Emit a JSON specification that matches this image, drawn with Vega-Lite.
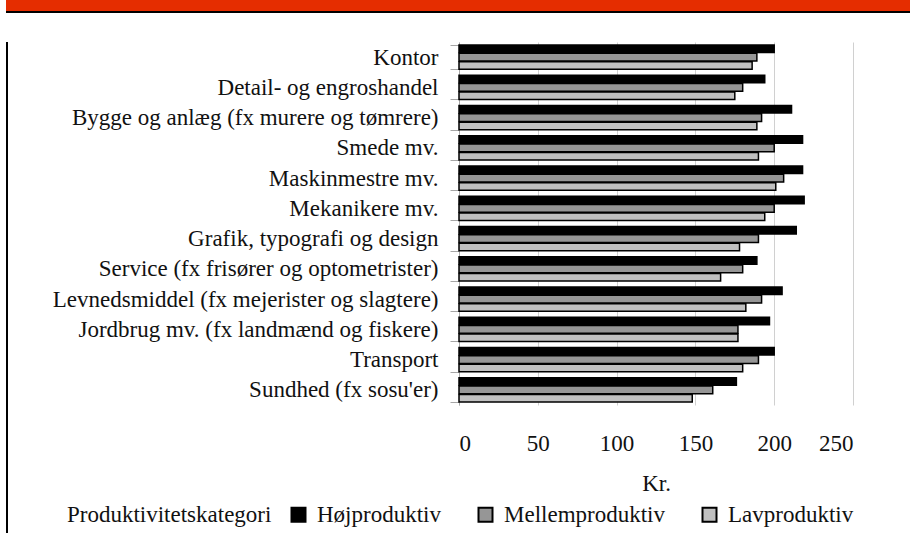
{
  "$schema": "https://vega.github.io/schema/vega-lite/v6.json",
  "padding": {"left": 6, "top": 0, "right": 0, "bottom": 0},
  "background": "white",
  "bounds": "flush",
  "spacing": 0,
  "config": {
    "view": {"stroke": null},
    "font": "Liberation Serif, serif",
    "concat": {"spacing": 0}
  },
  "vconcat": [
    {"width": 904, "height": 11, "data": {"values": []}, "mark": "rect", "encoding": {}, "view": {"fill": "#e52d00", "stroke": null}},
    {"width": 904, "height": 2, "data": {"values": []}, "mark": "rect", "encoding": {}, "view": {"fill": "#000000", "stroke": null}},
    {"width": 904, "height": 29, "data": {"values": []}, "mark": "rect", "encoding": {}},
    {
      "bounds": "flush",
      "spacing": 0,
      "hconcat": [
        {"width": 2, "height": 491, "data": {"values": []}, "mark": "rect", "encoding": {}, "view": {"fill": "#000000", "stroke": null}},
        {"width": 451, "height": 363, "data": {"values": []}, "mark": "rect", "encoding": {}},
        {
          "width": 394, "height": 363,
          "data": {"values": [
            {"kategori": "Kontor", "gruppe": "Højproduktiv", "kr": 200},
            {"kategori": "Kontor", "gruppe": "Mellemproduktiv", "kr": 189},
            {"kategori": "Kontor", "gruppe": "Lavproduktiv", "kr": 186},
            {"kategori": "Detail- og engroshandel", "gruppe": "Højproduktiv", "kr": 194},
            {"kategori": "Detail- og engroshandel", "gruppe": "Mellemproduktiv", "kr": 180},
            {"kategori": "Detail- og engroshandel", "gruppe": "Lavproduktiv", "kr": 175},
            {"kategori": "Bygge og anlæg (fx murere og tømrere)", "gruppe": "Højproduktiv", "kr": 211},
            {"kategori": "Bygge og anlæg (fx murere og tømrere)", "gruppe": "Mellemproduktiv", "kr": 192},
            {"kategori": "Bygge og anlæg (fx murere og tømrere)", "gruppe": "Lavproduktiv", "kr": 189},
            {"kategori": "Smede mv.", "gruppe": "Højproduktiv", "kr": 218},
            {"kategori": "Smede mv.", "gruppe": "Mellemproduktiv", "kr": 200},
            {"kategori": "Smede mv.", "gruppe": "Lavproduktiv", "kr": 190},
            {"kategori": "Maskinmestre mv.", "gruppe": "Højproduktiv", "kr": 218},
            {"kategori": "Maskinmestre mv.", "gruppe": "Mellemproduktiv", "kr": 206},
            {"kategori": "Maskinmestre mv.", "gruppe": "Lavproduktiv", "kr": 201},
            {"kategori": "Mekanikere mv. ", "gruppe": "Højproduktiv", "kr": 219},
            {"kategori": "Mekanikere mv. ", "gruppe": "Mellemproduktiv", "kr": 200},
            {"kategori": "Mekanikere mv. ", "gruppe": "Lavproduktiv", "kr": 194},
            {"kategori": "Grafik, typografi og design", "gruppe": "Højproduktiv", "kr": 214},
            {"kategori": "Grafik, typografi og design", "gruppe": "Mellemproduktiv", "kr": 190},
            {"kategori": "Grafik, typografi og design", "gruppe": "Lavproduktiv", "kr": 178},
            {"kategori": "Service (fx frisører og optometrister)", "gruppe": "Højproduktiv", "kr": 189},
            {"kategori": "Service (fx frisører og optometrister)", "gruppe": "Mellemproduktiv", "kr": 180},
            {"kategori": "Service (fx frisører og optometrister)", "gruppe": "Lavproduktiv", "kr": 166},
            {"kategori": "Levnedsmiddel (fx mejerister og slagtere)", "gruppe": "Højproduktiv", "kr": 205},
            {"kategori": "Levnedsmiddel (fx mejerister og slagtere)", "gruppe": "Mellemproduktiv", "kr": 192},
            {"kategori": "Levnedsmiddel (fx mejerister og slagtere)", "gruppe": "Lavproduktiv", "kr": 182},
            {"kategori": "Jordbrug mv. (fx landmænd og fiskere)", "gruppe": "Højproduktiv", "kr": 197},
            {"kategori": "Jordbrug mv. (fx landmænd og fiskere)", "gruppe": "Mellemproduktiv", "kr": 177},
            {"kategori": "Jordbrug mv. (fx landmænd og fiskere)", "gruppe": "Lavproduktiv", "kr": 177},
            {"kategori": "Transport", "gruppe": "Højproduktiv", "kr": 200},
            {"kategori": "Transport", "gruppe": "Mellemproduktiv", "kr": 190},
            {"kategori": "Transport", "gruppe": "Lavproduktiv", "kr": 180},
            {"kategori": "Sundhed (fx sosu'er)", "gruppe": "Højproduktiv", "kr": 176},
            {"kategori": "Sundhed (fx sosu'er)", "gruppe": "Mellemproduktiv", "kr": 161},
            {"kategori": "Sundhed (fx sosu'er)", "gruppe": "Lavproduktiv", "kr": 148}
          ]},
          "mark": {"type": "bar", "stroke": "#000000", "strokeWidth": 1.5},
          "encoding": {
            "y": {
              "field": "kategori", "type": "nominal", "sort": null,
              "scale": {"paddingInner": 0.2, "paddingOuter": 0.1},
              "axis": {
                "title": null,
                "tickBand": "extent",
                "tickSize": 9,
                "tickColor": "#a6a6a6",
                "domainColor": "#a6a6a6",
                "labelFont": "Liberation Serif, serif",
                "labelFontSize": 23,
                "labelColor": "#111111",
                "labelPadding": 12,
                "labelLimit": 500,
                "grid": false
              }
            },
            "yOffset": {
              "field": "gruppe", "type": "nominal",
              "sort": ["Højproduktiv", "Mellemproduktiv", "Lavproduktiv"],
              "scale": {"paddingInner": 0.1}
            },
            "x": {
              "field": "kr", "type": "quantitative",
              "scale": {"domain": [0, 250], "nice": false},
              "axis": {
                "title": "Kr.",
                "values": [0, 50, 100, 150, 200, 250],
                "domain": false,
                "ticks": false,
                "tickSize": 0,
                "grid": true,
                "gridColor": "#d0d0d0",
                "labelFont": "Liberation Serif, serif",
                "labelFontSize": 23,
                "labelColor": "#111111",
                "labelPadding": 27,
                "titleFont": "Liberation Serif, serif",
                "titleFontSize": 23,
                "titleFontWeight": "normal",
                "titleColor": "#111111",
                "titlePadding": 17
              }
            },
            "fill": {
              "field": "gruppe", "type": "nominal",
              "scale": {
                "domain": ["Højproduktiv", "Mellemproduktiv", "Lavproduktiv"],
                "range": ["#000000", "#969696", "#c0c0c0"]
              },
              "legend": {
                "title": "Produktivitetskategori",
                "orient": "none",
                "legendX": 61,
                "legendY": 503,
                "direction": "horizontal",
                "titleOrient": "left",
                "titleFont": "Liberation Serif, serif",
                "titleFontSize": 23,
                "titleFontWeight": "normal",
                "titleColor": "#111111",
                "titlePadding": 15,
                "titleLimit": 400,
                "labelFont": "Liberation Serif, serif",
                "labelFontSize": 23,
                "labelColor": "#111111",
                "labelLimit": 400,
                "labelOffset": 7,
                "columnPadding": 33,
                "symbolType": "square",
                "symbolSize": 196,
                "symbolStrokeColor": "#000000",
                "symbolStrokeWidth": 2
              }
            }
          }
        }
      ]
    }
  ]
}
